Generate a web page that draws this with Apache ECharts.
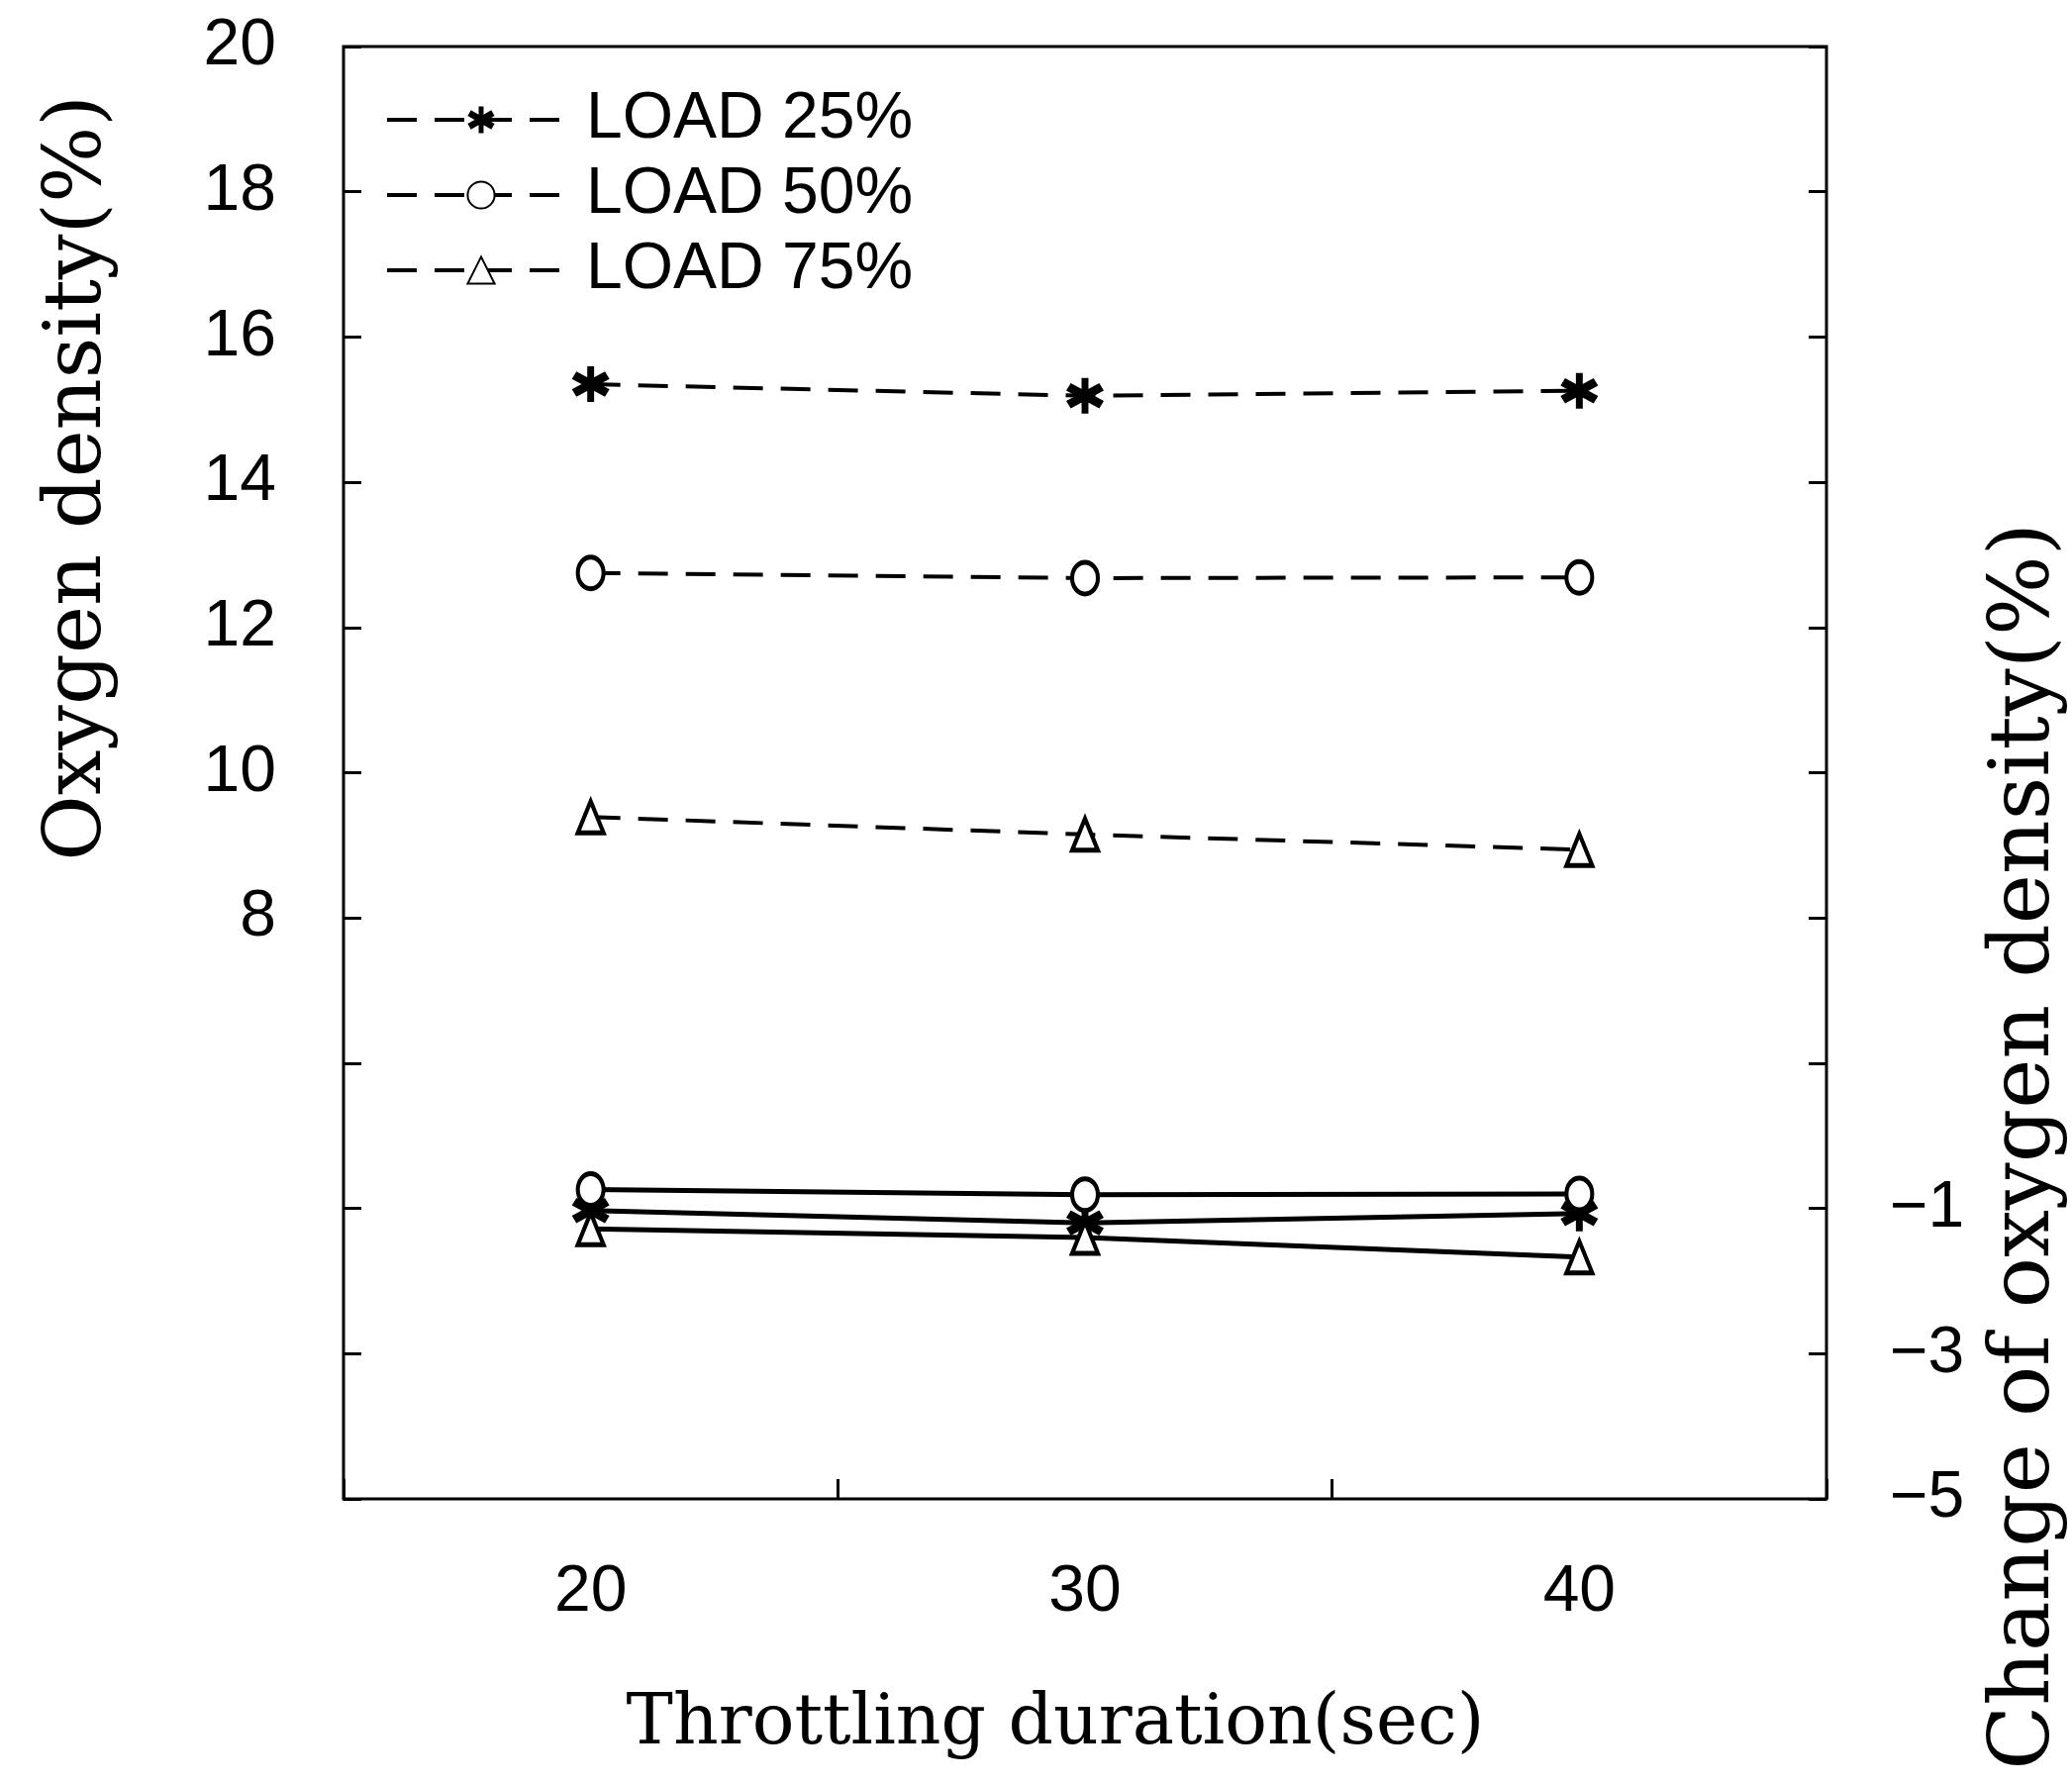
<!DOCTYPE html>
<html>
<head>
<meta charset="utf-8">
<style>
html,body{margin:0;padding:0;background:#fff;}
#chart{width:2093px;height:1804px;}
</style>
<script src="https://cdn.jsdelivr.net/npm/echarts@6/dist/echarts.min.js"></script>
</head>
<body>
<div id="chart"></div>
<script>
// ---- data ----
const durations = [20, 30, 40];                 // Throttling duration (sec)
const seriesNames = ['LOAD 25%', 'LOAD 50%', 'LOAD 75%'];
// Oxygen density (%) – dashed lines, left axis
const density25 = [15.35, 15.19, 15.26];
const density50 = [12.75, 12.68, 12.69];
const density75 = [9.39, 9.15, 8.94];
// Change of oxygen density (%) – solid lines, right axis
const change25 = [-1.03, -1.20, -1.07];
const change50 = [-0.74, -0.81, -0.80];
const change75 = [-1.28, -1.40, -1.67];
const xTickLabels = [20, 30, 40];
const leftTickLabels = [8, 10, 12, 14, 16, 18, 20];
const rightTickLabels = [-5, -3, -1];

const pairs = (ys) => durations.map((x, i) => [x, ys[i]]);

const starPath = 'path://M41 0L59 0L59 100L41 100Z' +
  'M0.7 35.4L12.7 14.6L99.3 64.6L87.3 85.4Z' +
  'M87.3 14.6L99.3 35.4L12.7 85.4L0.7 64.6Z';

const SANS = '"Liberation Sans", Arial, sans-serif';
const SERIF = '"DejaVu Serif", serif';

const markers = [
  { symbol: starPath, size: [38, 36], fill: '#000', border: 0 },
  { symbol: 'circle', size: [26, 32], fill: '#fff', border: 4.5 },
  { symbol: 'triangle', size: [26, 32], fill: '#fff', border: 4.5 }
];

function lineSeries(name, data, yIdx, dashed, m) {
  return {
    name: name,
    type: 'line',
    xAxisIndex: 0,
    yAxisIndex: yIdx,
    data: data,
    symbol: m.symbol,
    symbolSize: m.size,
    showAllSymbol: true,
    animation: false,
    z: dashed ? 2 : 3,
    lineStyle: { color: '#000', width: dashed ? 4 : 5, type: dashed ? [30, 18] : 'solid' },
    itemStyle: { color: m.fill, borderColor: '#000', borderWidth: m.border },
    emphasis: { disabled: true }
  };
}

const densities = [density25, density50, density75];
const changes = [change25, change50, change75];
const series = [];
seriesNames.forEach((n, i) => series.push(lineSeries(n, pairs(densities[i]), 0, true, markers[i])));
seriesNames.forEach((n, i) => series.push(lineSeries(n + ' change', pairs(changes[i]), 1, false, markers[i])));

const chart = echarts.init(document.getElementById('chart'), null, { renderer: 'canvas' });
chart.setOption({
  backgroundColor: '#fff',
  animation: false,
  grid: { left: 347, right: 248, top: 47, bottom: 290, show: true, borderColor: '#000', borderWidth: 3, backgroundColor: 'transparent' },
  legend: {
    data: seriesNames,
    orient: 'vertical',
    left: 384,
    top: 83,
    itemWidth: 190,
    itemHeight: 34,
    itemGap: 10,
    selectedMode: false,
    lineStyle: { width: 4 },
    textStyle: { fontFamily: SANS, fontSize: 66, color: '#000', padding: [0, 0, 0, 6] }
  },
  xAxis: [
    {
      type: 'value', min: 15, max: 45, interval: 5,
      axisLine: { show: false, onZero: false }, axisTick: { show: false }, splitLine: { show: false },
      axisLabel: {
        margin: 62, fontFamily: SANS, fontSize: 66, color: '#000',
        formatter: (v) => xTickLabels.indexOf(v) >= 0 ? String(v) : ''
      }
    },
    {
      type: 'value', min: 15, max: 45, interval: 10, position: 'bottom',
      axisLine: { show: false, onZero: false }, splitLine: { show: false }, axisLabel: { show: false },
      axisTick: { show: true, inside: true, length: 20, lineStyle: { color: '#000', width: 3 } }
    }
  ],
  yAxis: [
    {
      type: 'value', min: 0, max: 20, interval: 2, position: 'left',
      axisLine: { show: false, onZero: false }, splitLine: { show: false },
      axisTick: { show: true, inside: true, length: 18, lineStyle: { color: '#000', width: 3 } },
      axisLabel: {
        margin: 68, fontFamily: SANS, fontSize: 66, color: '#000',
        formatter: (v) => leftTickLabels.indexOf(v) >= 0 ? String(v) : ''
      }
    },
    {
      type: 'value', min: -5, max: 15, interval: 2, position: 'right',
      axisLine: { show: false, onZero: false }, splitLine: { show: false },
      axisTick: { show: true, inside: true, length: 18, lineStyle: { color: '#000', width: 3 } },
      axisLabel: {
        margin: 64, fontFamily: SANS, fontSize: 66, color: '#000',
        formatter: (v) => rightTickLabels.indexOf(v) >= 0 ? String(v).replace('-', '\u2212') : ''
      }
    }
  ],
  graphic: [
    { type: 'text', x: 80, y: 483, rotation: Math.PI / 2, silent: true,
      style: { text: 'Oxygen density(%)', font: '81px ' + SERIF, fill: '#000', textAlign: 'center', textVerticalAlign: 'middle', align: 'center', verticalAlign: 'middle' } },
    { type: 'text', x: 2047, y: 1158, rotation: Math.PI / 2, silent: true,
      style: { text: 'Change of oxygen density(%)', font: '85px ' + SERIF, fill: '#000', textAlign: 'center', textVerticalAlign: 'middle', align: 'center', verticalAlign: 'middle' } },
    { type: 'text', x: 1066, y: 1743, silent: true,
      style: { text: 'Throttling duration(sec)', font: '71px ' + SERIF, fill: '#000', textAlign: 'center', textVerticalAlign: 'middle', align: 'center', verticalAlign: 'middle' } }
  ],
  series: series
});
</script>
</body>
</html>
